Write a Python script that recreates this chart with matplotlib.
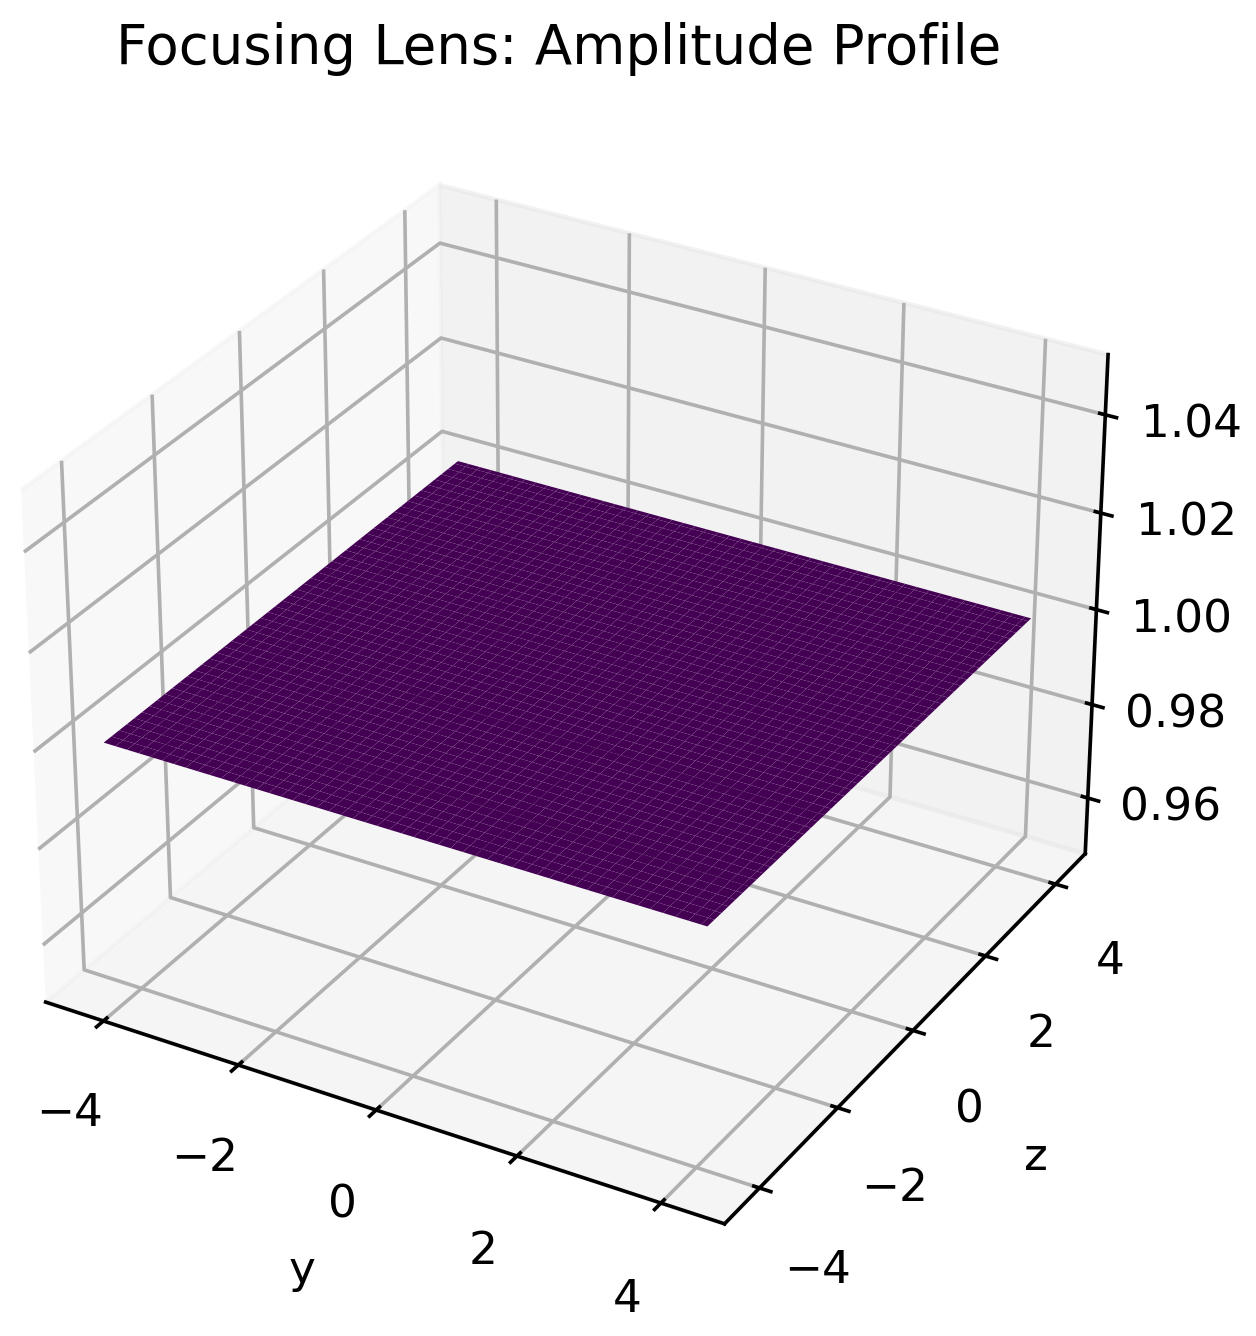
import numpy as np
import matplotlib
matplotlib.use("Agg")
import matplotlib.pyplot as plt
from matplotlib.transforms import Bbox

# Grid coordinates (y, z) and constant amplitude value
y_coords = np.linspace(-4.25, 4.25, 100)
z_coords = np.linspace(-4.25, 4.25, 100)
amplitude_value = 1.0

Y, Zc = np.meshgrid(y_coords, z_coords)
A = np.full_like(Y, amplitude_value)

DPI = 327
OUT_W, OUT_H = 1257, 1336

fig = plt.figure(figsize=(6.4, 4.8), dpi=DPI)
ax = fig.add_subplot(projection='3d')
ax.plot_surface(Y, Zc, A, cmap='viridis')
ax.set_title('Focusing Lens: Amplitude Profile')
ax.set_xlabel('y')
ax.set_ylabel('z')

fig.canvas.draw()
pos = ax.get_position()
fw, fh = fig.get_size_inches()
sq_left = pos.x0 * fw
sq_top = pos.y1 * fh

left = sq_left + 45.6 / DPI
top = sq_top + 91.5 / DPI
w = OUT_W / DPI
h = OUT_H / DPI
bbox = Bbox.from_extents(left, top - h, left + w, top)
fig.savefig('out.png', dpi=DPI, bbox_inches=bbox)
